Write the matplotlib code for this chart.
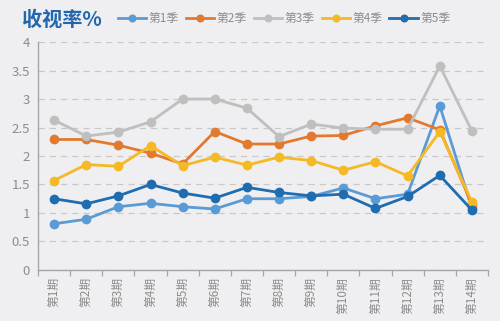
import numpy as np
import matplotlib.pyplot as plt

plt.rcParams['font.family'] = ['Noto Sans CJK SC', 'DejaVu Sans']

episodes = ['第%d期' % i for i in range(1, 15)]
seasons = ['第1季', '第2季', '第3季', '第4季', '第5季']

s1 = [0.81, 0.89, 1.11, 1.17, 1.11, 1.07, 1.25, 1.25, 1.29, 1.44, 1.25, 1.33, 2.88, 1.08]
s2 = [2.29, 2.29, 2.19, 2.05, 1.86, 2.43, 2.21, 2.21, 2.35, 2.36, 2.53, 2.67, 2.46, 1.15]
s3 = [2.63, 2.35, 2.42, 2.60, 3.00, 3.00, 2.84, 2.34, 2.56, 2.49, 2.47, 2.47, 3.58, 2.44]
s4 = [1.57, 1.85, 1.82, 2.18, 1.83, 1.98, 1.84, 1.98, 1.92, 1.75, 1.90, 1.65, 2.43, 1.19]
s5 = [1.25, 1.16, 1.30, 1.50, 1.35, 1.26, 1.45, 1.36, 1.30, 1.33, 1.08, 1.29, 1.66, 1.05]

colors = ['#5B9BD5', '#E2792F', '#BFBFBF', '#F5B925', '#1F6CB0']
bg = '#EFEFF1'
grey = '#8C8C8C'

fig = plt.figure(figsize=(5, 3.21), dpi=100, facecolor=bg)
ax = fig.add_axes([0.076, 0.159, 0.9, 0.71], facecolor=bg)

x = np.arange(len(episodes))
for name, vals, c in zip(seasons, [s1, s2, s3, s4, s5], colors):
    ax.plot(x, vals, color=c, lw=2.0, marker='o', ms=6, label=name)

ax.set_xlim(-0.5, len(episodes) - 0.5)
ax.set_ylim(0, 4)
ax.set_yticks(np.arange(0, 4.01, 0.5))
ax.set_yticklabels(['0', '0.5', '1', '1.5', '2', '2.5', '3', '3.5', '4'])
ax.yaxis.grid(True, color='#C8C8C8', linestyle=(0, (5, 4)), lw=0.9)
ax.set_axisbelow(True)

# category labels at centres, tick marks at the boundaries
ax.set_xticks(x)
ax.set_xticklabels(episodes, rotation=90, fontsize=8.5, color=grey)
ax.set_xticks(np.arange(-0.5, len(episodes)), minor=True)
ax.tick_params(axis='x', which='major', length=0, pad=5)
ax.tick_params(axis='x', which='minor', length=4, color='#A6A6A6', width=0.9)
ax.tick_params(axis='y', length=0, labelsize=9.5, labelcolor=grey, pad=6)

for side in ['top', 'right']:
    ax.spines[side].set_visible(False)
for side in ['left', 'bottom']:
    ax.spines[side].set_color('#A6A6A6')
    ax.spines[side].set_linewidth(1.0)

fig.text(0.044, 0.94, '收视率%', fontsize=14.5, fontweight='bold',
         color='#2267AE', va='center', ha='left')

leg = fig.legend(loc='center left', bbox_to_anchor=(0.236, 0.941), ncol=5,
                 frameon=False, fontsize=8.5, handlelength=2.4,
                 handletextpad=0.2, columnspacing=0.6, borderaxespad=0,
                 borderpad=0, markerscale=0.8)
for t in leg.get_texts():
    t.set_color(grey)

fig.savefig('out.png', dpi=100, facecolor=bg)
